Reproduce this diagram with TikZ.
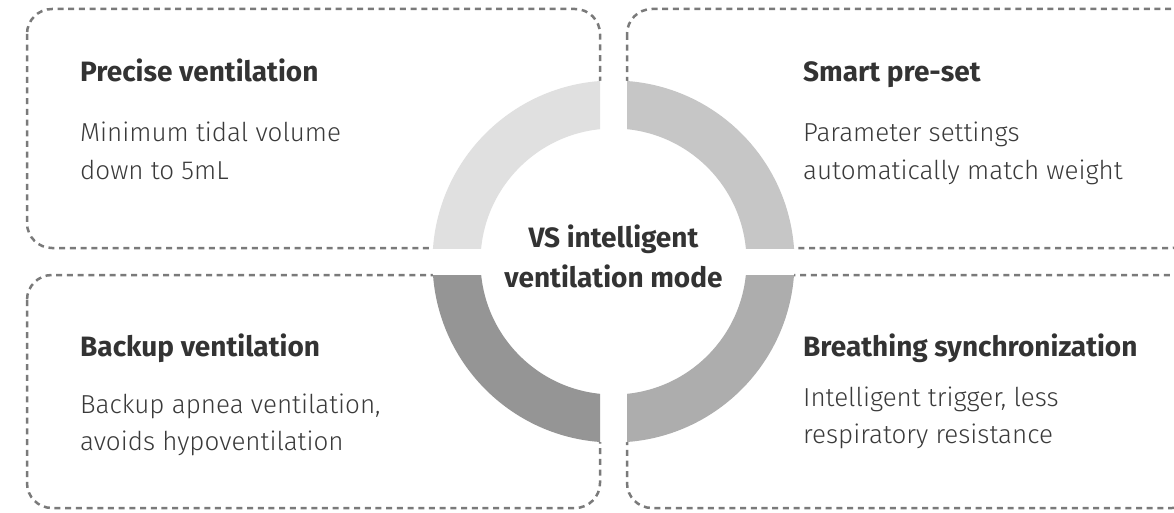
\documentclass[tikz,border=0pt]{standalone}
\usepackage{fontspec}
\setmainfont{Fira Sans}[UprightFont={* Light}, BoldFont={* Bold}]
\definecolor{dashc}{HTML}{7A7A7A}
\definecolor{titc}{HTML}{333333}
\definecolor{bodc}{HTML}{3A3A3A}
\definecolor{qtl}{HTML}{E0E0E0}
\definecolor{qtr}{HTML}{C6C6C6}
\definecolor{qbr}{HTML}{ADADAD}
\definecolor{qbl}{HTML}{959595}
\begin{document}
\begin{tikzpicture}[x=1pt,y=1pt,
  box/.style={draw=dashc, line width=2.5pt, dash pattern=on 6pt off 4.7pt, rounded corners=25pt},
  ttl/.style={anchor=base west, inner sep=0pt, font=\bfseries\fontsize{28}{31}\selectfont, text=titc},
  bdy/.style={anchor=base west, inner sep=0pt, font=\fontsize{26}{30}\selectfont, text=bodc},
  ctr/.style={anchor=base, inner sep=0pt, font=\bfseries\fontsize{28}{31}\selectfont, text=titc},
]
\useasboundingbox (0,0) rectangle (1174,512);
\clip (0,0) rectangle (1174,512);
% boxes
\draw[box] (27,503) rectangle (600,264);
\draw[box] (627,503) rectangle (1197,264);
\draw[box] (27,237) rectangle (600,4);
\draw[box] (627,237) rectangle (1197,4);
% ring
\coordinate (c) at (613.5,250.5);
\fill[white] (c) circle[radius=181pt];
\begin{scope}
  \clip (0,264) rectangle (600,512);
  \fill[qtl, even odd rule] (c) circle[radius=181pt] (c) circle[radius=133pt];
\end{scope}
\begin{scope}
  \clip (627,264) rectangle (1174,512);
  \fill[qtr, even odd rule] (c) circle[radius=181pt] (c) circle[radius=133pt];
\end{scope}
\begin{scope}
  \clip (627,0) rectangle (1174,237);
  \fill[qbr, even odd rule] (c) circle[radius=181pt] (c) circle[radius=133pt];
\end{scope}
\begin{scope}
  \clip (0,0) rectangle (600,237);
  \fill[qbl, even odd rule] (c) circle[radius=181pt] (c) circle[radius=133pt];
\end{scope}
% center text
\node[ctr] (c1) at (613.5,265) {VS intelligent};
\node[ctr] (c2) at (613.5,225) {ventilation mode};
% top-left
\node[ttl] (tlt) at (80,430) {Precise ventilation};
\node[bdy] (tl1) at (80,370) {Minimum tidal volume};
\node[bdy] (tl2) at (80,332) {down to 5mL};
% top-right
\node[ttl] (trt) at (803,430) {Smart pre-set};
\node[bdy] (tr1) at (803,370) {Parameter settings};
\node[bdy] (tr2) at (803,332) {automatically match weight};
% bottom-left
\node[ttl] (blt) at (80,156) {Backup ventilation};
\node[bdy] (bl1) at (80,99) {Backup apnea ventilation,};
\node[bdy] (bl2) at (80,62) {avoids hypoventilation};
% bottom-right
\node[ttl] (brt) at (803,156) {Breathing synchronization};
\node[bdy] (br1) at (803,106) {Intelligent trigger, less};
\node[bdy] (br2) at (803,69) {respiratory resistance};
\end{tikzpicture}
\end{document}
